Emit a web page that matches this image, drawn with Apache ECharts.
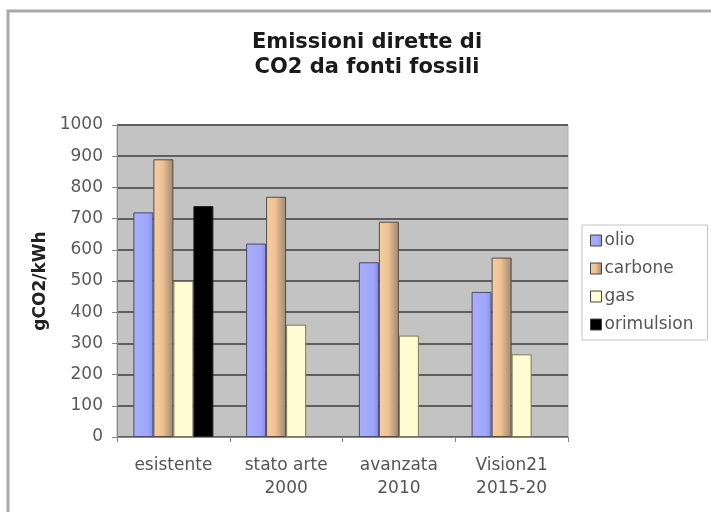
<!DOCTYPE html>
<html>
<head>
<meta charset="utf-8">
<script src="https://cdn.jsdelivr.net/npm/echarts@6/dist/echarts.min.js"></script>
<style>
html,body{margin:0;padding:0;background:#fff;}
#chart{width:711px;height:512px;}
</style>
</head>
<body>
<div id="chart"></div>
<script>
const categories = ['esistente', 'stato arte\n2000', 'avanzata\n2010', 'Vision21\n2015-20'];
const olio = [720, 620, 560, 465];
const carbone = [890, 770, 690, 575];
const gas = [500, 360, 325, 265];
const orimulsion = [740, null, null, null];
const yTicks = {min: 0, max: 1000, interval: 100};

const FONT = 'DejaVu Sans';
const chart = echarts.init(document.getElementById('chart'), null, {renderer: 'canvas'});

function grad(stops) {
  return new echarts.graphic.LinearGradient(0, 0, 1, 0, stops);
}

const common = {
  type: 'bar',
  barGap: '0%',
  barCategoryGap: '29%',
  animation: false
};

chart.setOption({
  backgroundColor: '#ffffff',
  animation: false,
  graphic: [{
    type: 'rect',
    shape: {x: 8, y: 11, width: 720, height: 520},
    style: {fill: 'none', stroke: '#a8a8a8', lineWidth: 3},
    z: -10
  }],
  title: {
    text: 'Emissioni dirette di\nCO2 da fonti fossili',
    left: 362,
    top: 25,
    textAlign: 'center',
    textStyle: {fontFamily: FONT, fontSize: 21, fontWeight: 'bold', color: '#1a1a1a', lineHeight: 25}
  },
  legend: {
    orient: 'vertical',
    left: 582,
    top: 225,
    padding: [7, 14, 7, 8],
    itemWidth: 11,
    itemHeight: 11,
    itemGap: 11,
    borderColor: '#c4c4c4',
    borderWidth: 1,
    icon: 'rect',
    textStyle: {fontFamily: FONT, fontSize: 17, color: '#555', lineHeight: 17, padding: [0,0,0,-2]},
    itemStyle: {borderColor: '#444', borderWidth: 1},
    data: ['olio', 'carbone', 'gas', 'orimulsion']
  },
  grid: {
    left: 117, right: 143, top: 125, bottom: 75,
    show: true,
    backgroundColor: '#c3c3c3',
    borderColor: '#b0b0b0',
    borderWidth: 1
  },
  xAxis: {
    type: 'category',
    data: categories,
    axisLine: {lineStyle: {color: '#888', width: 1}},
    axisTick: {show: true, length: 5, lineStyle: {color: '#888'}},
    axisLabel: {fontFamily: FONT, fontSize: 17, color: '#555', margin: 17, lineHeight: 23}
  },
  yAxis: {
    type: 'value',
    min: yTicks.min,
    max: yTicks.max,
    interval: yTicks.interval,
    name: 'gCO2/kWh',
    nameLocation: 'middle',
    nameGap: 53,
    nameRotate: 90,
    nameTextStyle: {fontFamily: FONT, fontSize: 17, fontWeight: 'bold', color: '#222'},
    axisLine: {show: true, lineStyle: {color: '#888', width: 1}},
    axisTick: {show: true, length: 5, lineStyle: {color: '#888'}},
    axisLabel: {fontFamily: FONT, fontSize: 17, color: '#5a5a5a', margin: 14, formatter: function (v) { return String(v); }},
    splitLine: {lineStyle: {color: '#5e5e5e', width: 2}}
  },
  series: [
    Object.assign({}, common, {
      name: 'olio', data: olio,
      itemStyle: {color: grad([{offset: 0, color: '#a8aeff'}, {offset: 0.7, color: '#a0a6fc'}, {offset: 1, color: '#8a8fe0'}]), borderColor: '#4a4a6a', borderWidth: 1}
    }),
    Object.assign({}, common, {
      name: 'carbone', data: carbone,
      itemStyle: {color: grad([{offset: 0, color: '#f5cda2'}, {offset: 0.45, color: '#f0c393'}, {offset: 1, color: '#98887a'}]), borderColor: '#5a4a3a', borderWidth: 1}
    }),
    Object.assign({}, common, {
      name: 'gas', data: gas,
      itemStyle: {color: '#fffbd2', borderColor: '#7a7a5a', borderWidth: 1}
    }),
    Object.assign({}, common, {
      name: 'orimulsion', data: orimulsion,
      itemStyle: {color: '#000000', borderColor: '#222', borderWidth: 1}
    })
  ]
});
</script>
</body>
</html>
